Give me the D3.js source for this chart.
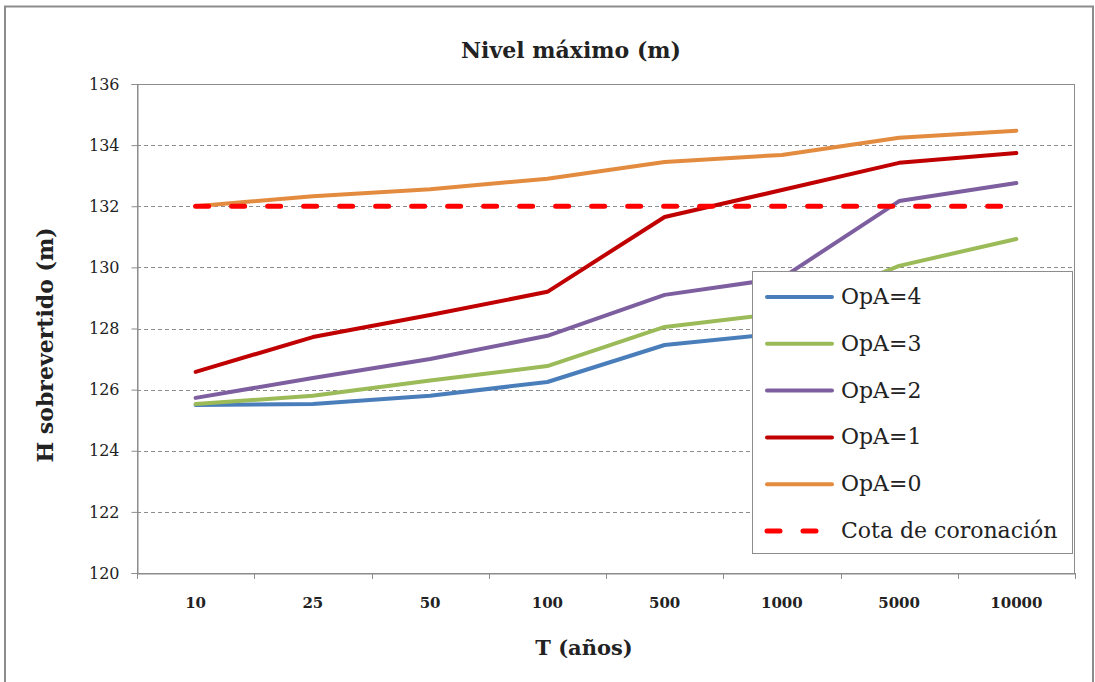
<!DOCTYPE html>
<html><head><meta charset="utf-8">
<script src="https://cdn.jsdelivr.net/npm/d3@7"></script>
<style>body{margin:0;background:#fff}svg{display:block}</style>
</head><body><svg id="c" width="1095" height="682"></svg>
<script>
const categories = ["10","25","50","100","500","1000","5000","10000"];
const opa4 = [125.5, 125.53, 125.8, 126.25, 127.46, 127.85, 128.6, 129.0];
const opa3 = [125.53, 125.8, 126.3, 126.77, 128.05, 128.5, 130.05, 130.93];
const opa2 = [125.73, 126.38, 127.0, 127.76, 129.1, 129.65, 132.17, 132.76];
const opa1 = [126.58, 127.72, 128.44, 129.2, 131.65, 132.53, 133.42, 133.74];
const opa0 = [132.0, 132.33, 132.56, 132.9, 133.45, 133.68, 134.24, 134.47];
const cota = [132, 132, 132, 132, 132, 132, 132, 132];
const yTicks = [120,122,124,126,128,130,132,134,136];
const seriesNames = ["OpA=4","OpA=3","OpA=2","OpA=1","OpA=0","Cota de coronación"];
const seriesColors = ["#4A7EBB","#9BBB59","#7D5FA0","#C00000","#E38B3F","#FF0000"];

const series = [opa4, opa3, opa2, opa1, opa0, cota];
const svg = d3.select("#c");
const L=137, R=1075, T=84, B=573;
const x = d3.scaleBand().domain(categories).range([L,R]);
const y = d3.scaleLinear().domain([120,136]).range([B,T]);
const serif = "'DejaVu Serif', serif";

// outer frame
svg.append("rect").attr("x",5).attr("y",6.5).attr("width",1088).attr("height",700)
  .attr("fill","none").attr("stroke","#8c8c8c").attr("stroke-width",2);

// gridlines
svg.append("g").selectAll("line").data(yTicks.filter(v=>v>120 && v<136)).join("line")
  .attr("x1",L).attr("x2",R).attr("y1",d=>Math.round(y(d))+0.5).attr("y2",d=>Math.round(y(d))+0.5)
  .attr("stroke","#8c8c8c").attr("stroke-width",1).attr("stroke-dasharray","4,3");

// plot border
svg.append("rect").attr("x",L+0.5).attr("y",T+0.5).attr("width",R-L-1).attr("height",B-T)
  .attr("fill","none").attr("stroke","#8c8c8c").attr("stroke-width",1);

// y axis
const yAxis = d3.axisLeft(y).tickValues(yTicks).tickSize(6).tickPadding(12);
const gy = svg.append("g").attr("transform",`translate(${L+0.5},0)`).call(yAxis);
gy.select(".domain").attr("stroke","#8c8c8c");
gy.selectAll(".tick line").attr("stroke","#8c8c8c");
gy.selectAll("text").attr("font-family",serif).attr("font-size",16).attr("fill","#222");

// x axis (ticks at band boundaries)
const xAxis = d3.axisBottom(x).tickSize(0).tickPadding(24);
const gx = svg.append("g").attr("transform",`translate(0,${B+0.5})`).call(xAxis);
gx.select(".domain").attr("stroke","#8c8c8c");
gx.selectAll("text").attr("font-family",serif).attr("font-size",15).attr("font-weight","bold").attr("fill","#222");
const bounds = categories.map(c=>x(c)).concat([R]);
svg.append("g").selectAll("line").data(bounds).join("line")
  .attr("x1",d=>Math.round(d)+0.5).attr("x2",d=>Math.round(d)+0.5)
  .attr("y1",B).attr("y2",B+6).attr("stroke","#8c8c8c");

// lines
const line = d3.line().x((d,i)=>x(categories[i])+x.bandwidth()/2).y(d=>y(d));
series.forEach((s,i)=>{
  const p = svg.append("path").datum(s).attr("d",line)
    .attr("fill","none").attr("stroke",seriesColors[i])
    .attr("stroke-width", i===5?5:4).attr("stroke-linejoin","round").attr("stroke-linecap","round");
  if(i===5) p.attr("stroke-dasharray","13,23");
});

// titles
svg.append("text").attr("x",571).attr("y",58).attr("text-anchor","middle")
  .attr("font-family",serif).attr("font-weight","bold").attr("font-size",22).attr("fill","#222")
  .text("Nivel máximo (m)");
svg.append("text").attr("x",584).attr("y",655).attr("text-anchor","middle")
  .attr("font-family",serif).attr("font-weight","bold").attr("font-size",21).attr("fill","#222")
  .text("T (años)");
svg.append("text").attr("transform","translate(53,345) rotate(-90)").attr("text-anchor","middle")
  .attr("font-family",serif).attr("font-weight","bold").attr("font-size",22).attr("fill","#222")
  .text("H sobrevertido (m)");

// legend
const lg = svg.append("g");
lg.append("rect").attr("x",752.5).attr("y",271.5).attr("width",320).attr("height",282)
  .attr("fill","#fff").attr("stroke","#8c8c8c").attr("stroke-width",1);
seriesNames.forEach((n,i)=>{
  const yy = 297 + i*46.8;
  const l = lg.append("line").attr("x1",767).attr("x2",832).attr("y1",yy).attr("y2",yy)
    .attr("stroke",seriesColors[i]).attr("stroke-width",i===5?5:4).attr("stroke-linecap","round");
  if(i===5) l.attr("stroke-dasharray","13,23");
  lg.append("text").attr("x",841).attr("y",yy+7).attr("font-family",serif)
    .attr("font-size",22).attr("fill","#222").text(n);
});
</script></body></html>
